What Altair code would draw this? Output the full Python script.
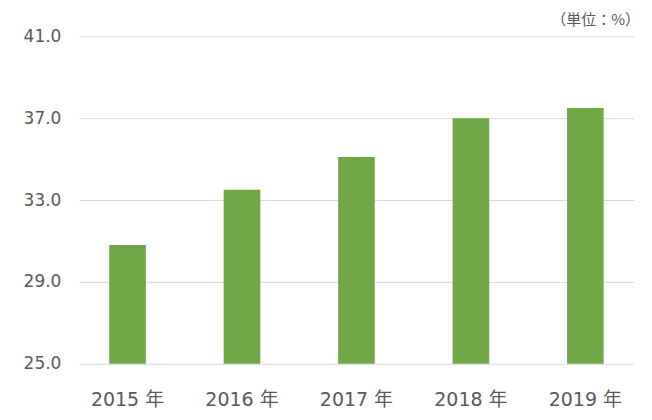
import altair as alt
import pandas as pd

years = ["2015 年", "2016 年", "2017 年", "2018 年", "2019 年"]
values = [30.8, 33.5, 35.1, 37.0, 37.5]
y_ticks = [25.0, 29.0, 33.0, 37.0, 41.0]
unit_label = ["（単位：%）"]

df = pd.DataFrame({"year": years, "value": values})
unit_df = pd.DataFrame({"label": unit_label})

FONT = "DejaVu Sans, Noto Sans CJK JP"

bars = alt.Chart(df).mark_bar(color="#70a846", clip=True).encode(
    x=alt.X(
        "year:N",
        sort=years,
        title=None,
        scale=alt.Scale(paddingInner=0.68, paddingOuter=0.265),
        axis=alt.Axis(
            labelAngle=0,
            labelFontSize=19,
            labelColor="#595959",
            labelFont=FONT,
            labelPadding=27,
            domain=False,
            ticks=False,
            grid=False,
        ),
    ),
    y=alt.Y(
        "value:Q",
        title=None,
        scale=alt.Scale(domain=[25, 41], nice=False, zero=False),
        axis=alt.Axis(
            values=y_ticks,
            format=".1f",
            labelFontSize=17,
            labelColor="#595959",
            labelFont=FONT,
            labelPadding=18,
            domain=False,
            ticks=False,
            grid=True,
            gridColor="#d9d9d9",
            gridWidth=1,
        ),
    ),
)

unit = alt.Chart(unit_df).mark_text(
    align="right",
    baseline="middle",
    fontSize=15,
    font="Noto Sans CJK JP",
    color="#595959",
).encode(
    text="label:N",
    x=alt.value(562),
    y=alt.value(-16),
)

chart = (
    alt.layer(bars, unit)
    .properties(
        width=556,
        height=328,
        background="white",
        autosize=alt.AutoSizeParams(type="none"),
        padding={"left": 71, "top": 28, "right": 10, "bottom": 60},
    )
    .configure_view(stroke="transparent", strokeWidth=0)
    .configure_axis(domain=False, domainOpacity=0)
)

chart.save("out.html", embed_options={"renderer": "svg", "actions": False})
